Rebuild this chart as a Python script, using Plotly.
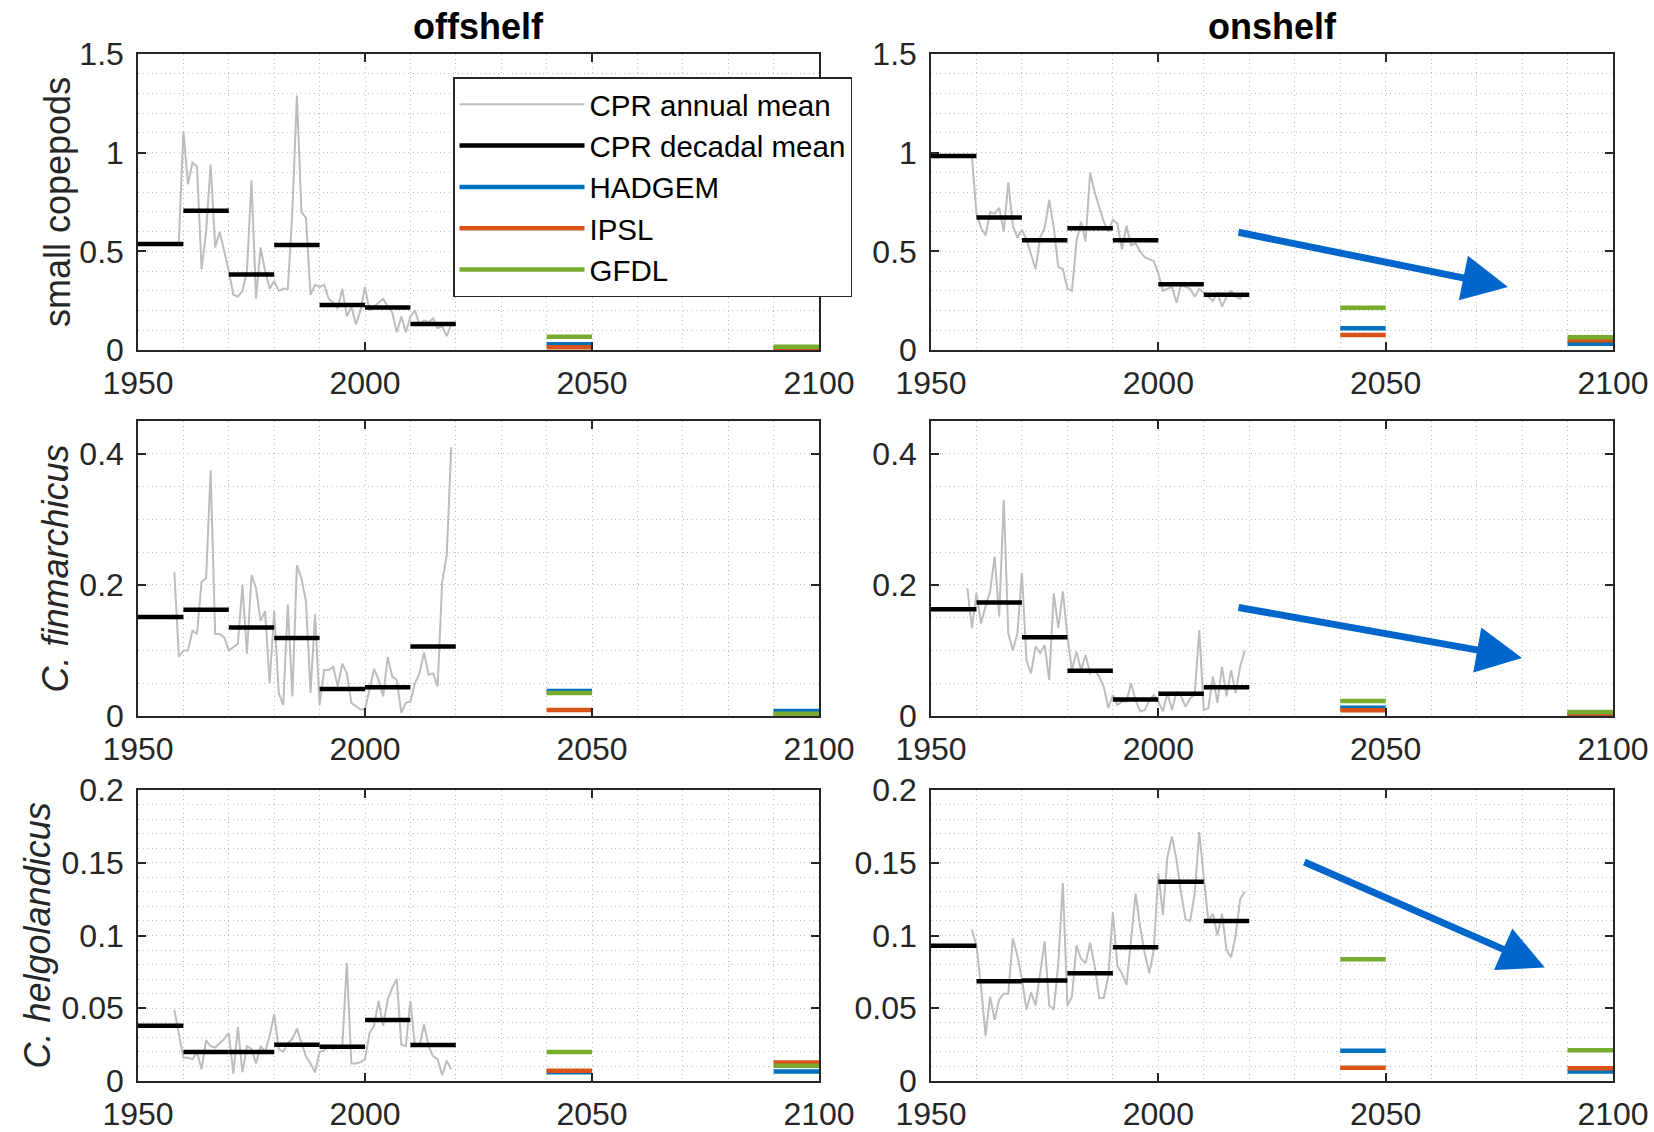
import plotly.graph_objects as go
from plotly.subplots import make_subplots

# ---------------- data ----------------
decade_starts = [1950, 1960, 1970, 1980, 1990, 2000, 2010]
model_periods = [(2040, 2050), (2090, 2100)]
model_names = ["HADGEM", "IPSL", "GFDL"]
model_colors = ["#0072BD", "#D95319", "#77AC30"]

# offshelf small copepods
off_sc_years = list(range(1959, 2020))
off_sc_annual = [0.55, 1.11, 0.84, 0.95, 0.93, 0.41, 0.60, 0.94, 0.52, 0.60, 0.50,
                 0.40, 0.28, 0.27, 0.30, 0.40, 0.86, 0.26, 0.52, 0.40, 0.31,
                 0.35, 0.30, 0.31, 0.31, 0.70, 1.29, 0.70, 0.67, 0.28, 0.33,
                 0.32, 0.33, 0.26, 0.24, 0.21, 0.31, 0.17, 0.22, 0.13, 0.20,
                 0.32, 0.20, 0.22, 0.24, 0.26, 0.22, 0.19, 0.09, 0.17, 0.09,
                 0.17, 0.20, 0.13, 0.15, 0.14, 0.16, 0.11, 0.12, 0.07, 0.13]
off_sc_decadal = [0.537, 0.706, 0.383, 0.532, 0.228, 0.216, 0.132]
off_sc_models = {"HADGEM": [0.029, 0.010], "IPSL": [0.014, 0.007], "GFDL": [0.067, 0.017]}

# onshelf small copepods
on_sc_years = list(range(1959, 2020))
on_sc_annual = [0.98, 0.69, 0.62, 0.58, 0.70, 0.69, 0.72, 0.60, 0.85, 0.63, 0.57,
                0.61, 0.56, 0.49, 0.41, 0.57, 0.62, 0.76, 0.62, 0.42, 0.41,
                0.31, 0.30, 0.55, 0.65, 0.55, 0.90, 0.80, 0.72, 0.65, 0.60,
                0.66, 0.64, 0.51, 0.63, 0.53, 0.54, 0.50, 0.47, 0.46, 0.45,
                0.39, 0.30, 0.31, 0.32, 0.24, 0.33, 0.32, 0.31, 0.27, 0.31,
                0.29, 0.27, 0.25, 0.29, 0.22, 0.27, 0.30, 0.27, 0.26, 0.29]
on_sc_decadal = [0.983, 0.672, 0.556, 0.617, 0.556, 0.333, 0.280]
on_sc_models = {"HADGEM": [0.110, 0.032], "IPSL": [0.076, 0.050], "GFDL": [0.214, 0.065]}

# offshelf C. finmarchicus
off_cf_years = list(range(1958, 2020))
off_cf_annual = [0.22, 0.09, 0.10, 0.10, 0.13, 0.125, 0.205, 0.21, 0.375, 0.125, 0.125, 0.12,
                 0.10, 0.105, 0.11, 0.20, 0.095, 0.215, 0.195, 0.145, 0.16, 0.05,
                 0.16, 0.035, 0.017, 0.17, 0.03, 0.23, 0.21, 0.175, 0.035, 0.155,
                 0.017, 0.07, 0.07, 0.075, 0.045, 0.08, 0.065, 0.02, 0.015, 0.01,
                 0.01, 0.04, 0.072, 0.055, 0.03, 0.09, 0.06, 0.055, 0.005, 0.02,
                 0.022, 0.05, 0.065, 0.097, 0.063, 0.065, 0.045, 0.205, 0.245, 0.41]
off_cf_decadal = [0.151, 0.162, 0.135, 0.119, 0.041, 0.044, 0.106]
off_cf_models = {"HADGEM": [0.038, 0.0076], "IPSL": [0.009, 0.002], "GFDL": [0.035, 0.0035]}

# onshelf C. finmarchicus
on_cf_years = list(range(1958, 2020))
on_cf_annual = [0.195, 0.134, 0.187, 0.141, 0.167, 0.19, 0.243, 0.152, 0.33, 0.126, 0.10, 0.126,
                0.218, 0.085, 0.065, 0.106, 0.096, 0.108, 0.055, 0.187, 0.134, 0.19,
                0.121, 0.07, 0.098, 0.07, 0.093, 0.065, 0.07, 0.06, 0.045, 0.012,
                0.032, 0.017, 0.022, 0.022, 0.05, 0.024, 0.007, 0.009, 0.024, 0.032,
                0.022, 0.007, 0.035, 0.009, 0.037, 0.03, 0.014, 0.027, 0.032, 0.131,
                0.009, 0.012, 0.06, 0.02, 0.075, 0.03, 0.07, 0.035, 0.075, 0.10]
on_cf_decadal = [0.163, 0.173, 0.120, 0.069, 0.025, 0.034, 0.044]
on_cf_models = {"HADGEM": [0.0127, 0.002], "IPSL": [0.0087, 0.004], "GFDL": [0.023, 0.006]}

# offshelf C. helgolandicus
off_ch_years = list(range(1958, 2020))
off_ch_annual = [0.049, 0.033, 0.016, 0.016, 0.015, 0.020, 0.008, 0.028, 0.024, 0.023, 0.026, 0.029,
                 0.033, 0.005, 0.037, 0.006, 0.024, 0.022, 0.012, 0.024, 0.020, 0.031,
                 0.046, 0.022, 0.020, 0.026, 0.029, 0.036, 0.026, 0.017, 0.012, 0.006,
                 0.020, 0.021, 0.024, 0.022, 0.024, 0.024, 0.081, 0.012, 0.012, 0.013,
                 0.015, 0.033, 0.038, 0.055, 0.038, 0.056, 0.064, 0.070, 0.025, 0.024,
                 0.055, 0.024, 0.024, 0.039, 0.024, 0.017, 0.015, 0.004, 0.014, 0.008]
off_ch_decadal = [0.038, 0.020, 0.020, 0.025, 0.0235, 0.042, 0.0247]
off_ch_models = {"HADGEM": [0.006, 0.0066], "IPSL": [0.007, 0.0128], "GFDL": [0.020, 0.0105]}

# onshelf C. helgolandicus
on_ch_years = list(range(1959, 2020))
on_ch_annual = [0.104, 0.093, 0.065, 0.031, 0.058, 0.042, 0.056, 0.06, 0.06, 0.098, 0.086,
                0.07, 0.049, 0.061, 0.052, 0.074, 0.096, 0.052, 0.049, 0.081, 0.136,
                0.052, 0.058, 0.093, 0.084, 0.081, 0.095, 0.079, 0.057, 0.057, 0.072,
                0.116, 0.079, 0.074, 0.066, 0.097, 0.129, 0.106, 0.088, 0.074, 0.09,
                0.143, 0.114, 0.154, 0.168, 0.152, 0.129, 0.111, 0.110, 0.129, 0.171,
                0.14, 0.11, 0.115, 0.10, 0.115, 0.09, 0.085, 0.10, 0.125, 0.13]
on_ch_decadal = [0.093, 0.0685, 0.069, 0.074, 0.092, 0.137, 0.110]
on_ch_models = {"HADGEM": [0.0208, 0.0066], "IPSL": [0.0091, 0.0087], "GFDL": [0.0836, 0.0212]}

panels = [
    (1, 1, off_sc_years, off_sc_annual, off_sc_decadal, off_sc_models),
    (1, 2, on_sc_years, on_sc_annual, on_sc_decadal, on_sc_models),
    (2, 1, off_cf_years, off_cf_annual, off_cf_decadal, off_cf_models),
    (2, 2, on_cf_years, on_cf_annual, on_cf_decadal, on_cf_models),
    (3, 1, off_ch_years, off_ch_annual, off_ch_decadal, off_ch_models),
    (3, 2, on_ch_years, on_ch_annual, on_ch_decadal, on_ch_models),
]

y_ranges = [[0, 1.5], [0, 0.45], [0, 0.2]]
y_dticks = [0.5, 0.2, 0.05]
y_minor = [0.1, 0.05, 0.01]
row_titles = ["small copepods", "<i>C. finmarchicus</i>", "<i>C. helgolandicus</i>"]
col_titles = ["offshelf", "onshelf"]

# arrows (right column): start (year, value) -> tip (year, value)
arrows = [
    (2, (2017.3, 0.598), (2076.9, 0.319)),
    (4, (2017.3, 0.166), (2080.0, 0.0885)),
    (6, (2031.8, 0.151), (2085.0, 0.078)),
]

# ---------------- figure ----------------
W, H = 1654, 1132
FONT = "Liberation Sans, Arial, Helvetica, sans-serif"
AXC = "#262626"
GRID = "#BBBBBB"
GDASH = "1px,3.5px"

fig = make_subplots(rows=3, cols=2)

first = True
for (r, c, yrs, ann, dec, mods) in panels:
    fig.add_trace(go.Scatter(x=yrs, y=ann, mode="lines", name="CPR annual mean",
                             line=dict(color="#BDBDBD", width=2),
                             showlegend=first, legendrank=1), row=r, col=c)
    dx, dy = [], []
    for s, v in zip(decade_starts, dec):
        dx += [s, s + 10, None]
        dy += [v, v, None]
    fig.add_trace(go.Scatter(x=dx, y=dy, mode="lines", name="CPR decadal mean",
                             line=dict(color="black", width=4.5),
                             showlegend=first, legendrank=2), row=r, col=c)
    for k, (mname, mcol) in enumerate(zip(model_names, model_colors)):
        mx, my = [], []
        for (a, b), v in zip(model_periods, mods[mname]):
            mx += [a, b, None]
            my += [v, v, None]
        fig.add_trace(go.Scatter(x=mx, y=my, mode="lines", name=mname,
                                 line=dict(color=mcol, width=4.5),
                                 showlegend=first, legendrank=3 + k), row=r, col=c)
    first = False

# domains in pixels
x_dom = [(138, 819), (931, 1613)]
y_dom = [(54, 350), (421, 716), (790, 1081)]
row_title_x = [58, 55, 37]

for r in range(3):
    for c in range(2):
        idx = r * 2 + c + 1
        xa = "xaxis" if idx == 1 else f"xaxis{idx}"
        ya = "yaxis" if idx == 1 else f"yaxis{idx}"
        x0, x1 = x_dom[c]
        yt, yb = y_dom[r]
        common = dict(showline=True, linecolor=AXC, linewidth=1.5, mirror="ticks",
                      ticks="inside", ticklen=8, tickwidth=1.5, tickcolor=AXC,
                      showgrid=True, gridcolor=GRID, gridwidth=1, griddash=GDASH,
                      zeroline=False, automargin=False,
                      tickfont=dict(family=FONT, size=32, color=AXC))
        fig.layout[xa].update(domain=[x0 / W, x1 / W], range=[1950, 2100],
                              tickmode="linear", tick0=1950, dtick=50,
                              minor=dict(dtick=10, showgrid=True, gridcolor=GRID,
                                         griddash=GDASH, ticklen=0),
                              ticklabelstandoff=4, **common)
        fig.layout[ya].update(domain=[1 - yb / H, 1 - yt / H], range=y_ranges[r],
                              tickmode="linear", tick0=0, dtick=y_dticks[r],
                              minor=dict(dtick=y_minor[r], showgrid=True, gridcolor=GRID,
                                         griddash=GDASH, ticklen=0),
                              ticklabelstandoff=6, **common)

annotations = []
for c, t in enumerate(col_titles):
    x0, x1 = x_dom[c]
    annotations.append(dict(text=f"<b>{t}</b>", x=(x0 + x1) / 2 / W, y=1 - 27 / H,
                            xref="paper", yref="paper", showarrow=False,
                            font=dict(family=FONT, size=36, color="black"),
                            xanchor="center", yanchor="middle"))
for r, t in enumerate(row_titles):
    yt, yb = y_dom[r]
    annotations.append(dict(text=t, x=row_title_x[r] / W, y=1 - (yt + yb) / 2 / H,
                            xref="paper", yref="paper", showarrow=False, textangle=-90,
                            font=dict(family=FONT, size=36, color=AXC),
                            xanchor="center", yanchor="middle"))
for idx, (sx, sy), (tx, ty) in arrows:
    annotations.append(dict(x=tx, y=ty, ax=sx, ay=sy, xref=f"x{idx}", yref=f"y{idx}",
                            axref=f"x{idx}", ayref=f"y{idx}", text="", showarrow=True,
                            arrowhead=2, arrowsize=1.3, arrowwidth=7,
                            arrowcolor="#0066CC"))

fig.update_layout(
    width=W, height=H,
    margin=dict(l=0, r=0, t=0, b=0, autoexpand=False),
    paper_bgcolor="white", plot_bgcolor="white",
    font=dict(family=FONT, color=AXC),
    annotations=annotations,
    legend=dict(x=453 / W, y=1 - 77 / H, xanchor="left", yanchor="top",
                bgcolor="white", bordercolor=AXC, borderwidth=1.5,
                font=dict(family=FONT, size=29.5, color="black"),
                itemwidth=125, tracegroupgap=0),
)

fig.write_html("out.html")
